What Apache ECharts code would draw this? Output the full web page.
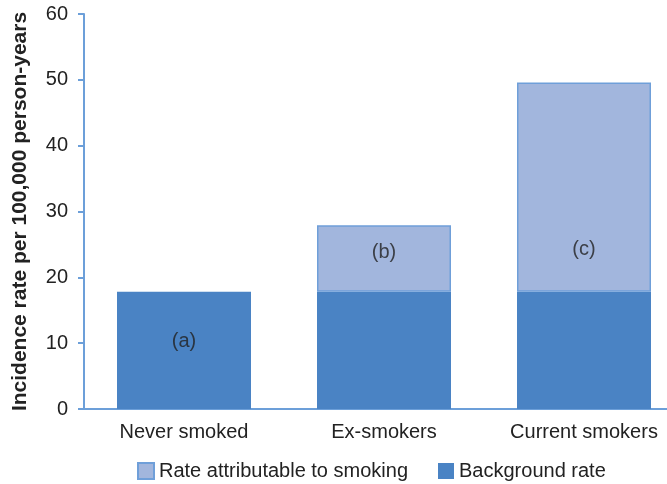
<!DOCTYPE html>
<html><head><meta charset="utf-8">
<script src="https://cdn.jsdelivr.net/npm/echarts@6/dist/echarts.min.js"></script>
<style>html,body{margin:0;padding:0;background:#fff}#c{width:667px;height:484px}</style>
</head><body><div id="c"></div>
<script>
const categories = ['Never smoked', 'Ex-smokers', 'Current smokers'];
const backgroundRate = [17.8, 17.8, 17.8];
const attributableRate = [0, 10.1, 31.8];
const annotationText = ['(a)', '(b)', '(c)'];
const annotationY = [10.3, 23.8, 24.2];
const yTicks = [0, 10, 20, 30, 40, 50, 60];

const font = 'Liberation Sans, Arial, sans-serif';
const axisColor = '#6c9fd9';
const chart = echarts.init(document.getElementById('c'));
chart.setOption({
  animation: false,
  textStyle: { fontFamily: font },
  grid: { left: 84, right: -17, top: 14, bottom: 75, containLabel: false, outerBoundsMode: 'none' },
  legend: {
    left: 132, top: 456, itemWidth: 16, itemHeight: 16, itemGap: 30, icon: 'rect',
    textStyle: { fontSize: 20, color: '#222', fontFamily: font },
    data: ['Rate attributable to smoking', 'Background rate']
  },
  xAxis: {
    type: 'category', data: categories,
    axisLine: { lineStyle: { color: axisColor, width: 2 } },
    axisTick: { show: false },
    axisLabel: { fontSize: 20, color: '#222', margin: 13, fontFamily: font }
  },
  yAxis: {
    type: 'value', min: yTicks[0], max: yTicks[yTicks.length - 1], interval: 10,
    name: 'Incidence rate per 100,000 person-years',
    nameLocation: 'middle', nameGap: 53,
    nameTextStyle: { fontSize: 21, fontWeight: 'bold', color: '#222', fontFamily: font },
    axisLine: { show: true, lineStyle: { color: axisColor, width: 2 } },
    axisTick: { show: true, length: 6, lineStyle: { color: axisColor, width: 2 } },
    axisLabel: { fontSize: 20, color: '#222', margin: 16, fontFamily: font },
    splitLine: { show: false }
  },
  series: [
    {
      name: 'Background rate', type: 'bar', stack: 'total', barWidth: '67%',
      data: backgroundRate,
      itemStyle: { color: '#4a83c4' }
    },
    {
      name: 'Rate attributable to smoking', type: 'bar', stack: 'total', barWidth: '67%',
      data: attributableRate.map(v => v === 0 ? '-' : v),
      itemStyle: { color: '#a2b6dd', borderColor: '#6f9fd9', borderWidth: 1.5 }
    },
    {
      type: 'scatter', symbolSize: 0, silent: true,
      data: categories.map((c, i) => [c, annotationY[i]]),
      label: {
        show: true, position: 'inside', fontSize: 20, color: '#222', fontFamily: font,
        formatter: p => annotationText[p.dataIndex]
      }
    }
  ]
});
</script></body></html>
